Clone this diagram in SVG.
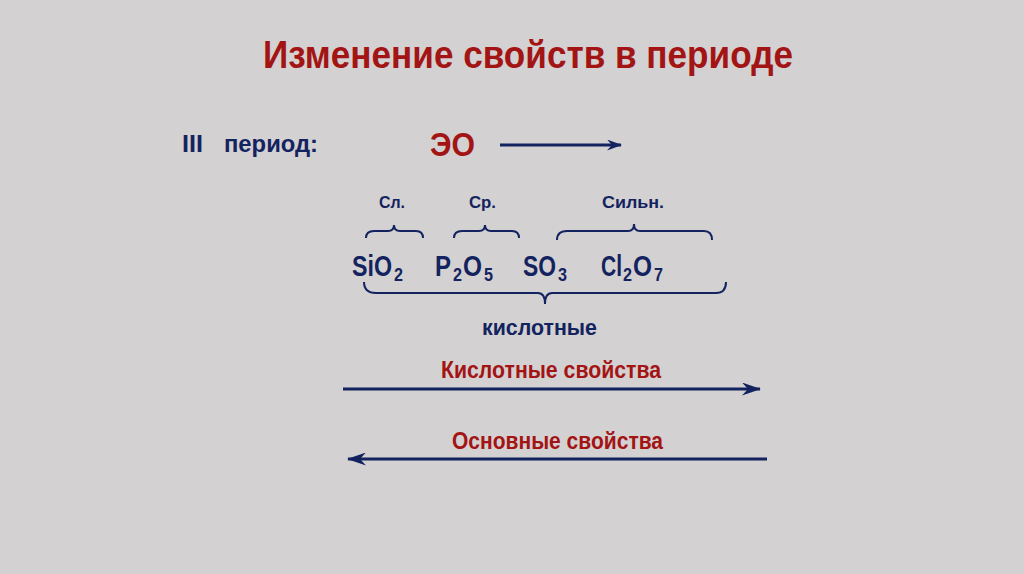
<svg xmlns="http://www.w3.org/2000/svg" width="1024" height="574" viewBox="0 0 1024 574">
<defs>
<style>
.t{font-family:"Liberation Sans",Arial,sans-serif;font-weight:bold}
.red{fill:#a31414}
.navy{fill:#13235f}
.f{font-size:29px}
.s{font-size:19px}
.ln{stroke:#13235f;stroke-width:3;fill:none}
.br{stroke:#13235f;stroke-width:2;fill:none}
</style>
<marker id="ah2" viewBox="0 0 19 13" refX="18" refY="6.5" markerWidth="19" markerHeight="13" markerUnits="userSpaceOnUse" orient="auto">
<path d="M0,0 L19,6.5 L0,13 L6,6.5 Z" fill="#13235f"/>
</marker>
<marker id="ah1" viewBox="0 0 15 11" refX="14" refY="5.5" markerWidth="15" markerHeight="11" markerUnits="userSpaceOnUse" orient="auto">
<path d="M0,0 L15,5.5 L0,11 L5,5.5 Z" fill="#13235f"/>
</marker>
</defs>
<rect width="1024" height="574" fill="#d3d1d1"/>
<g id="title"><text class="t red" x="263" y="68" font-size="39" textLength="530" lengthAdjust="spacingAndGlyphs">Изменение свойств в периоде</text></g>
<g id="period">
<text class="t navy" x="182" y="152" font-size="24" textLength="21" lengthAdjust="spacingAndGlyphs">III</text>
<text class="t navy" x="224" y="152" font-size="24" textLength="94" lengthAdjust="spacingAndGlyphs">период:</text>
</g>
<g id="eo"><text class="t red" x="430" y="156" font-size="33" textLength="45" lengthAdjust="spacingAndGlyphs">ЭО</text></g>
<g id="labels">
<text class="t navy" x="379" y="208" font-size="17" textLength="26" lengthAdjust="spacingAndGlyphs">Сл.</text>
<text class="t navy" x="469" y="208" font-size="17" textLength="27" lengthAdjust="spacingAndGlyphs">Ср.</text>
<text class="t navy" x="602" y="208" font-size="17" textLength="62" lengthAdjust="spacingAndGlyphs">Сильн.</text>
</g>
<g id="sio2" class="t navy">
<text class="f" x="352" y="276" textLength="40" lengthAdjust="spacingAndGlyphs">SiO</text>
<text class="s" x="394" y="281" textLength="9" lengthAdjust="spacingAndGlyphs">2</text>
</g>
<g id="p2o5" class="t navy">
<text class="f" x="435" y="276" textLength="16" lengthAdjust="spacingAndGlyphs">P</text>
<text class="s" x="453" y="281" textLength="9" lengthAdjust="spacingAndGlyphs">2</text>
<text class="f" x="463" y="276" textLength="19" lengthAdjust="spacingAndGlyphs">O</text>
<text class="s" x="484" y="281" textLength="9" lengthAdjust="spacingAndGlyphs">5</text>
</g>
<g id="so3" class="t navy">
<text class="f" x="523" y="276" textLength="33" lengthAdjust="spacingAndGlyphs">SO</text>
<text class="s" x="558" y="281" textLength="9" lengthAdjust="spacingAndGlyphs">3</text>
</g>
<g id="cl2o7" class="t navy">
<text class="f" x="601" y="276" textLength="21" lengthAdjust="spacingAndGlyphs">Cl</text>
<text class="s" x="623" y="281" textLength="9" lengthAdjust="spacingAndGlyphs">2</text>
<text class="f" x="633" y="276" textLength="19" lengthAdjust="spacingAndGlyphs">O</text>
<text class="s" x="654" y="281" textLength="9" lengthAdjust="spacingAndGlyphs">7</text>
</g>
<g id="kisl"><text class="t navy" x="482" y="335" font-size="22" textLength="115" lengthAdjust="spacingAndGlyphs">кислотные</text></g>
<g id="acid"><text class="t red" x="441" y="378" font-size="23" textLength="220" lengthAdjust="spacingAndGlyphs">Кислотные свойства</text></g>
<g id="basic"><text class="t red" x="452" y="449" font-size="23" textLength="211" lengthAdjust="spacingAndGlyphs">Основные свойства</text></g>
<g id="connectors">
<line class="ln" x1="500" y1="145" x2="621" y2="145" marker-end="url(#ah1)"/>
<line class="ln" x1="343" y1="389" x2="760" y2="389" marker-end="url(#ah2)"/>
<line class="ln" x1="767" y1="459" x2="348" y2="459" marker-end="url(#ah2)"/>
<path class="br" d="M366,238 Q366,231 374,231 L388,231 Q394,231 394,225 Q394,231 400,231 L416,231 Q423,231 423,238"/>
<path class="br" d="M454,238 Q454,231 462,231 L479,231 Q485,231 485,225 Q485,231 491,231 L512,231 Q519,231 519,238"/>
<path class="br" d="M557,240 Q557,231 567,231 L628,231 Q634,231 634,224 Q634,231 640,231 L704,231 Q712,231 712,240"/>
<path class="br" d="M364,282 Q364,293 376,293 L538,293 Q545,293 545,304 Q545,293 552,293 L716,293 Q726,293 726,282"/>
</g>
</svg>
